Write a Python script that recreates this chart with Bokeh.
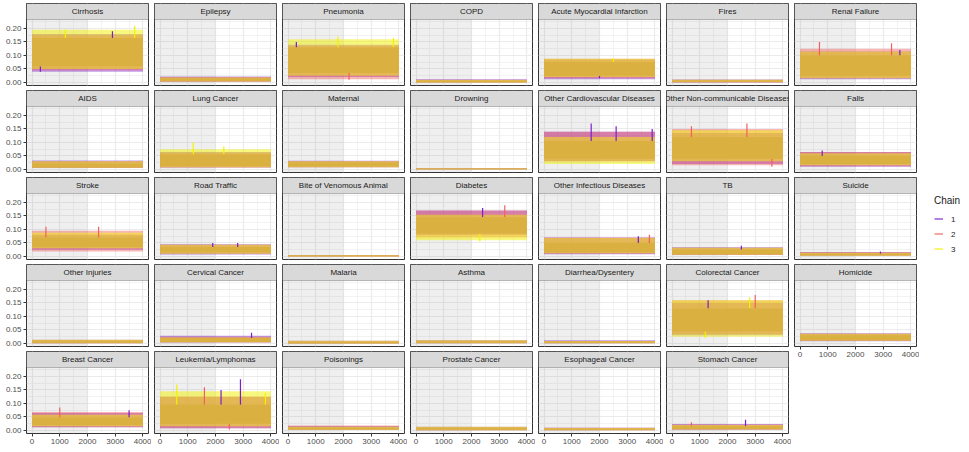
from bokeh.plotting import figure
from bokeh.models import (Range1d, FixedTicker, LinearAxis, BoxAnnotation, Legend,
                          LegendItem, PrintfTickFormatter, ColumnDataSource)
from bokeh.layouts import row, column
from bokeh.embed import file_html
from bokeh.resources import INLINE
from bokeh.core.properties import value

# ---------------- data ----------------
causes = [
    "Cirrhosis", "Epilepsy", "Pneumonia", "COPD", "Acute Myocardial Infarction", "Fires", "Renal Failure",
    "AIDS", "Lung Cancer", "Maternal", "Drowning", "Other Cardiovascular Diseases",
    "Other Non-communicable Diseases", "Falls",
    "Stroke", "Road Traffic", "Bite of Venomous Animal", "Diabetes", "Other Infectious Diseases", "TB", "Suicide",
    "Other Injuries", "Cervical Cancer", "Malaria", "Asthma", "Diarrhea/Dysentery", "Colorectal Cancer", "Homicide",
    "Breast Cancer", "Leukemia/Lymphomas", "Poisonings", "Prostate Cancer", "Esophageal Cancer", "Stomach Cancer",
]
chains = ["1", "2", "3"]
iterations = [1, 4000]
warmup_end = 2000
x_ticks = [0, 1000, 2000, 3000, 4000]
x_minor = [500, 1500, 2500, 3500]
y_ticks = [0.00, 0.05, 0.10, 0.15, 0.20]
y_minor = [0.025, 0.075, 0.125, 0.175, 0.225]

# range covered by each chain's trace
chain1_lo = [0.040, 0.002, 0.020, 0.000, 0.012, 0.000, 0.012,
             0.005, 0.007, 0.008, 0.000, 0.030, 0.020, 0.010,
             0.025, 0.007, 0.000, 0.080, 0.008, 0.005, 0.002,
             0.001, 0.003, 0.000, 0.001, 0.001, 0.030, 0.008,
             0.012, 0.008, 0.002, 0.001, 0.001, 0.002]
chain1_hi = [0.180, 0.022, 0.140, 0.012, 0.085, 0.011, 0.115,
             0.033, 0.065, 0.032, 0.005, 0.140, 0.135, 0.065,
             0.080, 0.045, 0.005, 0.170, 0.070, 0.034, 0.016,
             0.014, 0.028, 0.010, 0.012, 0.012, 0.150, 0.038,
             0.065, 0.125, 0.016, 0.014, 0.010, 0.024]
chain2_lo = [0.045, 0.002, 0.012, 0.000, 0.015, 0.000, 0.015,
             0.005, 0.007, 0.008, 0.000, 0.030, 0.015, 0.012,
             0.018, 0.010, 0.000, 0.070, 0.010, 0.005, 0.002,
             0.001, 0.003, 0.000, 0.001, 0.001, 0.035, 0.009,
             0.012, 0.008, 0.002, 0.001, 0.001, 0.002]
chain2_hi = [0.175, 0.020, 0.135, 0.010, 0.088, 0.010, 0.125,
             0.030, 0.062, 0.030, 0.004, 0.140, 0.150, 0.065,
             0.095, 0.043, 0.005, 0.170, 0.070, 0.032, 0.015,
             0.013, 0.025, 0.009, 0.011, 0.009, 0.160, 0.036,
             0.068, 0.125, 0.018, 0.013, 0.010, 0.022]
chain3_lo = [0.050, 0.003, 0.025, 0.000, 0.020, 0.001, 0.015,
             0.006, 0.008, 0.008, 0.000, 0.020, 0.030, 0.015,
             0.030, 0.010, 0.000, 0.060, 0.012, 0.006, 0.002,
             0.001, 0.004, 0.000, 0.001, 0.001, 0.025, 0.010,
             0.015, 0.015, 0.002, 0.001, 0.001, 0.003]
chain3_hi = [0.195, 0.018, 0.160, 0.009, 0.088, 0.010, 0.115,
             0.030, 0.075, 0.030, 0.004, 0.120, 0.145, 0.060,
             0.088, 0.043, 0.004, 0.155, 0.068, 0.032, 0.014,
             0.014, 0.022, 0.010, 0.012, 0.009, 0.160, 0.036,
             0.058, 0.145, 0.014, 0.014, 0.009, 0.020]
# dense region where all three chains overlap
mixed_lo = [0.060, 0.005, 0.035, 0.001, 0.025, 0.002, 0.025,
            0.008, 0.012, 0.011, 0.001, 0.040, 0.040, 0.020,
            0.035, 0.015, 0.001, 0.085, 0.015, 0.008, 0.004,
            0.002, 0.005, 0.001, 0.002, 0.002, 0.045, 0.013,
            0.020, 0.025, 0.003, 0.002, 0.002, 0.005]
mixed_hi = [0.165, 0.015, 0.130, 0.006, 0.075, 0.007, 0.100,
            0.022, 0.055, 0.025, 0.003, 0.105, 0.120, 0.050,
            0.070, 0.035, 0.003, 0.145, 0.050, 0.025, 0.010,
            0.008, 0.020, 0.005, 0.007, 0.007, 0.130, 0.030,
            0.048, 0.095, 0.010, 0.008, 0.006, 0.015]

# most visible individual draws (cause index, chain index, iteration, value)
spike_cause = [0, 0, 0, 0, 2, 2, 2, 2, 4, 4, 6, 6, 6, 8, 8, 11, 11, 11, 12, 12, 12, 13,
               14, 14, 15, 15, 17, 17, 17, 18, 18, 19, 20, 22, 26, 26, 26, 26,
               28, 28, 29, 29, 29, 29, 29, 29, 33, 33]
spike_chain = [2, 2, 0, 0, 2, 2, 0, 1, 2, 0, 1, 1, 0, 2, 2, 0, 0, 0, 1, 1, 1, 0,
               1, 1, 0, 0, 1, 0, 2, 1, 0, 0, 0, 0, 1, 2, 0, 2,
               1, 0, 0, 2, 1, 0, 2, 1, 0, 1]
spike_iter = [3700, 1200, 2900, 300, 1800, 3800, 300, 2200, 2500, 2000, 700, 3300, 3600, 1200, 2300,
              1700, 2600, 3900, 2700, 700, 3600, 800,
              500, 2400, 1900, 2800, 3200, 2400, 2300, 3800, 3400, 2500, 2900, 3300,
              3000, 2800, 1300, 1200, 1000, 3500, 2900, 600, 1600, 2200, 3800, 2500, 2650, 700]
spike_value = [0.210, 0.195, 0.190, 0.040, 0.170, 0.165, 0.150, 0.010, 0.090, 0.015,
               0.150, 0.145, 0.120, 0.100, 0.085, 0.170, 0.160, 0.150, 0.170, 0.160, 0.010, 0.070,
               0.110, 0.110, 0.050, 0.050, 0.190, 0.180, 0.055, 0.080, 0.075, 0.040, 0.018, 0.040,
               0.180, 0.170, 0.160, 0.020, 0.085, 0.075, 0.190, 0.170, 0.160, 0.150, 0.140, 0.003,
               0.040, 0.030]

chain_lo = [chain1_lo, chain2_lo, chain3_lo]
chain_hi = [chain1_hi, chain2_hi, chain3_hi]

# ---------------- style / layout ----------------
FONT = "Liberation Sans"
chain_colors = ["#7B1FC9", "#F0605E", "#F2F200"]
chain_alpha = [0.45, 0.45, 0.5]
mixed_color = "#DAB040"
NCOL = 7
FW = 122          # frame width
PANEL_H = 66      # data area height
STRIP_H = 16      # strip height
FH = PANEL_H + STRIP_H
X_LO, X_HI = -200, 4200
Y_LO, Y_HI = -0.0115, 0.2335
STRIP = (Y_HI - Y_LO) * STRIP_H / PANEL_H


def make_panel(i, left_axis, bottom_axis, top_row):
    p = figure(frame_width=FW, frame_height=FH,
               x_range=Range1d(X_LO, X_HI), y_range=Range1d(Y_LO, Y_HI + STRIP),
               x_axis_location=None, y_axis_location=None,
               toolbar_location=None, output_backend="svg",
               min_border_left=26 if left_axis else 3, min_border_right=3,
               min_border_top=3 if top_row else 0, min_border_bottom=5,
               outline_line_color="#333333", outline_line_width=1,
               background_fill_color="white", border_fill_color="white")
    p.xgrid.ticker = FixedTicker(ticks=x_ticks, minor_ticks=x_minor)
    p.ygrid.ticker = FixedTicker(ticks=y_ticks, minor_ticks=y_minor)
    for g in (p.xgrid, p.ygrid):
        g.grid_line_color = "#EBEBEB"
        g.grid_line_width = 1.2
        g.minor_grid_line_color = "#EBEBEB"
        g.minor_grid_line_width = 0.6

    # warm-up shading
    p.add_layout(BoxAnnotation(right=warmup_end, top=Y_HI, fill_color="#7F7F7F", fill_alpha=0.12,
                               line_color=None, level="underlay"))
    # strip
    p.add_layout(BoxAnnotation(bottom=Y_HI, fill_color="#D9D9D9", fill_alpha=1.0,
                               line_color="#333333", line_width=1, level="underlay"))

    for c in range(3):
        src = ColumnDataSource(dict(left=[iterations[0]], right=[iterations[-1]],
                                    bottom=[chain_lo[c][i]], top=[chain_hi[c][i]]))
        p.quad(left="left", right="right", bottom="bottom", top="top", source=src,
               fill_color=chain_colors[c], fill_alpha=chain_alpha[c], line_color=None)

    # individual extreme draws
    sx, sy0, sy1, sc = [], [], [], []
    for k in range(len(spike_cause)):
        if spike_cause[k] != i:
            continue
        v = spike_value[k]
        sx.append(spike_iter[k])
        sy0.append(mixed_hi[i] if v > mixed_hi[i] else mixed_lo[i])
        sy1.append(v)
        sc.append(chain_colors[spike_chain[k]])
    if sx:
        ssrc = ColumnDataSource(dict(x=sx, y0=sy0, y1=sy1, color=sc))
        p.segment(x0="x", y0="y0", x1="x", y1="y1", color="color", line_width=1.2, source=ssrc)

    msrc = ColumnDataSource(dict(left=[iterations[0]], right=[iterations[-1]],
                                 bottom=[mixed_lo[i]], top=[mixed_hi[i]]))
    p.quad(left="left", right="right", bottom="bottom", top="top", source=msrc,
           fill_color=mixed_color, fill_alpha=1.0, line_color=None)

    p.text(x=[(X_LO + X_HI) / 2], y=[Y_HI + STRIP / 2], text=[causes[i]],
           text_font=value(FONT), text_font_size="8px", text_color="#1A1A1A",
           text_align="center", text_baseline="middle")

    if left_axis:
        ax = LinearAxis(ticker=FixedTicker(ticks=y_ticks), formatter=PrintfTickFormatter(format="%.2f"))
        p.add_layout(ax, "left")
    if bottom_axis:
        ax = LinearAxis(ticker=FixedTicker(ticks=x_ticks), formatter=PrintfTickFormatter(format="%d"))
        p.add_layout(ax, "below")
    for ax in p.axis:
        ax.axis_line_color = None
        ax.major_tick_line_color = "#333333"
        ax.major_tick_out = 3
        ax.major_tick_in = 0
        ax.minor_tick_line_color = None
        ax.major_label_text_font = FONT
        ax.major_label_text_font_size = "8px"
        ax.major_label_text_color = "#4D4D4D"
        ax.major_label_standoff = 2
    return p


n = len(causes)
main_rows = []
for r in range(5):
    figs = []
    for c in range(NCOL - 1):
        i = r * NCOL + c
        if i >= n:
            continue
        figs.append(make_panel(i, c == 0, (i + NCOL) >= n, r == 0))
    main_rows.append(row(*figs))

last_col = []
for r in range(5):
    i = r * NCOL + NCOL - 1
    if i >= n:
        continue
    last_col.append(make_panel(i, False, (i + NCOL) >= n, r == 0))

# legend (key lines lie outside the visible range of this small figure)
lf = figure(width=48, height=450, x_range=Range1d(0, 1), y_range=Range1d(0, 1),
            x_axis_location=None, y_axis_location=None,
            toolbar_location=None, output_backend="svg", outline_line_color=None,
            min_border_left=0, min_border_right=0, min_border_top=0, min_border_bottom=0)
lf.xgrid.visible = False
lf.ygrid.visible = False
items = []
for c in range(3):
    r_ = lf.line(x=[5, 6], y=[5, 6], line_color=chain_colors[c], line_width=1.5, line_alpha=0.75)
    items.append(LegendItem(label=chains[c], renderers=[r_]))
leg = Legend(items=items, title="Chain", location="center_left",
             title_text_font=FONT, title_text_font_size="10px", title_text_color="#1A1A1A",
             title_text_font_style="normal", title_standoff=6,
             label_text_font=FONT, label_text_font_size="8px", label_text_color="#1A1A1A",
             glyph_width=9, glyph_height=14, label_height=14, label_standoff=8, spacing=1,
             padding=6, margin=15, border_line_color=None, background_fill_alpha=0)
lf.add_layout(leg, "center")

layout = row(column(*main_rows), column(*last_col), lf)

open("out.html", "w").write(file_html(layout, INLINE, title="Trace plots"))
